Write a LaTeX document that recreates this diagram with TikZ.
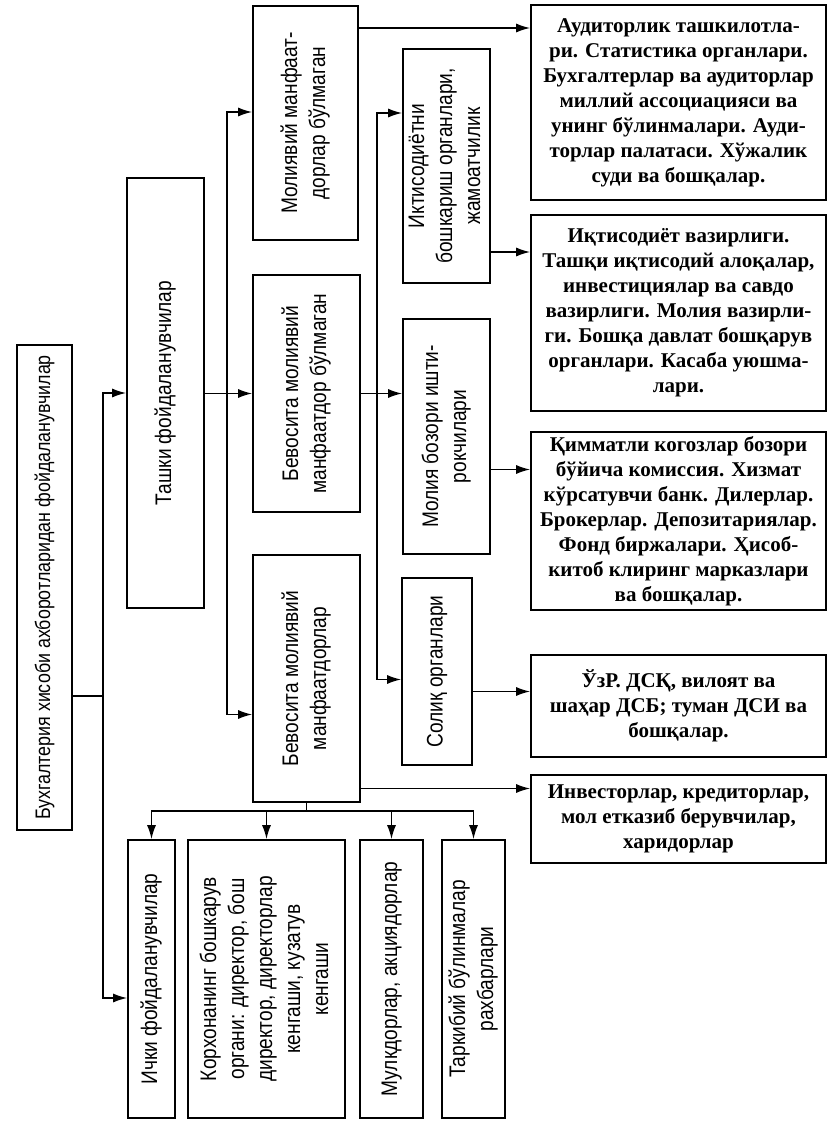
\documentclass[tikz,border=0pt]{standalone}
\usepackage{graphicx}
\usepackage{fontspec}
\newfontfamily\boxsans[FakeStretch=0.85]{Liberation Sans}
\newfontfamily\boxserif{Liberation Serif}
\usepackage{tikz}
\usetikzlibrary{positioning,calc,arrows.meta}

\newcommand{\vlabel}[1]{\rotatebox{90}{\begin{tabular}{@{}c@{}}#1\end{tabular}}}

\tikzset{
  vbox/.style={draw, line width=1.6pt, inner sep=0pt, font=\boxsans\fontsize{22.5}{28}\selectfont},
  tbox/.style={draw, line width=1.6pt, inner sep=0pt, align=center, minimum width=295pt, font=\boxserif\bfseries\fontsize{21}{25}\selectfont},
  arr/.style={line width=1.6pt, -{Latex[length=14pt,width=9pt]}},
  ln/.style={line width=1.6pt}
}

\begin{document}
\begin{tikzpicture}[x=1pt,y=-1pt]
\useasboundingbox (0,0) rectangle (832,1123);

% users
\node[vbox, minimum width=55pt, minimum height=485pt, font=\boxsans\fontsize{21}{28}\selectfont] (root) at (44.5,587.5) {\vlabel{Бухгалтерия хисоби ахборотларидан фойдаланувчилар}};
\node[vbox, minimum width=77pt, minimum height=430pt] (tashki) at (165.5,393) {\vlabel{Ташки фойдаланувчилар}};

\node[vbox, minimum width=105pt, minimum height=234pt] (nofin) at (305.5,123) {\vlabel{Молиявий манфаат-\\дорлар бўлмаган}};
\node[vbox, minimum width=107pt, minimum height=237pt] (indnot) at (306.5,393.5) {\vlabel{Бевосита молиявий\\манфаатдор бўлмаган}};
\node[vbox, minimum width=107pt, minimum height=247pt] (indyes) at (306.5,678.5) {\vlabel{Бевосита молиявий\\манфаатдорлар}};

\node[vbox, minimum width=87pt, minimum height=234pt] (econ) at (446.5,166) {\vlabel{Иктисодиётни\\бошкариш органлари,\\жамоатчилик}};
\node[vbox, minimum width=87pt, minimum height=235pt] (market) at (446.5,436.5) {\vlabel{Молия бозори ишти-\\рокчилари}};
\node[vbox, minimum width=70pt, minimum height=187pt] (tax) at (437,671.5) {\vlabel{Солиқ органлари}};

% internal users
\node[vbox, minimum width=47pt, minimum height=278pt] (inner) at (151.5,979) {\vlabel{Ички фойдаланувчилар}};
\node[vbox, minimum width=157pt, minimum height=278pt] (mgmt) at (266.5,979) {\vlabel{Корхонанинг бошкарув\\органи: директор, бош\\директор, директорлар\\кенгаши, кузатув\\кенгаши}};
\node[vbox, minimum width=63pt, minimum height=278pt] (owners) at (391.5,979) {\vlabel{Мулкдорлар, акциядорлар}};
\node[vbox, minimum width=63pt, minimum height=278pt] (heads) at (473.5,979) {\vlabel{Таркибий бўлинмалар\\рахбарлари}};

% right column
\node[tbox, minimum height=195pt] (audit) at (678.5,102.5) {Аудиторлик ташкилотла-\\ри. Статистика органлари.\\Бухгалтерлар ва аудиторлар\\миллий ассоциацияси ва\\унинг бўлинмалари. Ауди-\\торлар палатаси. Хўжалик\\суди ва бошқалар.};
\node[tbox, minimum height=196pt] (minist) at (678.5,313) {Иқтисодиёт вазирлиги.\\Ташқи иқтисодий алоқалар,\\инвестициялар ва савдо\\вазирлиги. Молия вазирли-\\ги. Бошқа давлат бошқарув\\органлари. Касаба уюшма-\\лари.};
\node[tbox, minimum height=178pt] (secur) at (678.5,521) {Қимматли когозлар бозори\\бўйича комиссия. Хизмат\\кўрсатувчи банк. Дилерлар.\\Брокерлар. Депозитариялар.\\Фонд биржалари. Ҳисоб-\\китоб клиринг марказлари\\ва бошқалар.};
\node[tbox, minimum height=102pt] (state) at (678.5,706) {ЎзР. ДСҚ, вилоят ва\\шаҳар ДСБ; туман ДСИ ва\\бошқалар.};
\node[tbox, minimum height=88pt] (invest) at (678.5,819) {Инвесторлар, кредиторлар,\\мол етказиб берувчилар,\\харидорлар};

% connectors
\coordinate (jr) at (103,696);
\draw[ln] (root.east |- jr) -- (jr);
\draw[arr] (jr) |- (tashki);
\draw[arr] (jr) |- ([yshift=-19pt]inner.west);

\draw[arr] (tashki.east |- indnot) -- (indnot.west);
\coordinate (b1) at (227,393.5);
\draw[arr] (b1) |- ([yshift=11pt]nofin.west);
\draw[arr] (b1) |- ([yshift=-36pt]indyes.west);

\draw[arr] (indnot.east) -- (indnot.east -| market.west);
\coordinate (b2) at (377,393.5);
\draw[arr] (b2) |- ([yshift=53pt]econ.west);
\draw[arr] (b2) |- ([yshift=-8pt]tax.west);

\draw[arr] ([yshift=95pt]nofin.east) -- ([yshift=95pt]nofin.east -| audit.west);
\draw[arr] ([yshift=-86pt]econ.east) -- ([yshift=-86pt]econ.east -| minist.west);
\draw[arr] ([yshift=-33pt]market.east) -- ([yshift=-33pt]market.east -| secur.west);
\draw[arr] ([yshift=-20pt]tax.east) -- ([yshift=-20pt]tax.east -| state.west);
\draw[arr] ([yshift=-110pt]indyes.east) -- ([yshift=-110pt]indyes.east -| invest.west);

\coordinate (b3) at (306.5,811);
\draw[ln] (indyes.south) -- (b3);
\draw[arr] (b3) -| (inner);
\draw[arr] (b3) -| (mgmt);
\draw[arr] (b3) -| (owners);
\draw[arr] (b3) -| (heads);
\end{tikzpicture}
\end{document}
